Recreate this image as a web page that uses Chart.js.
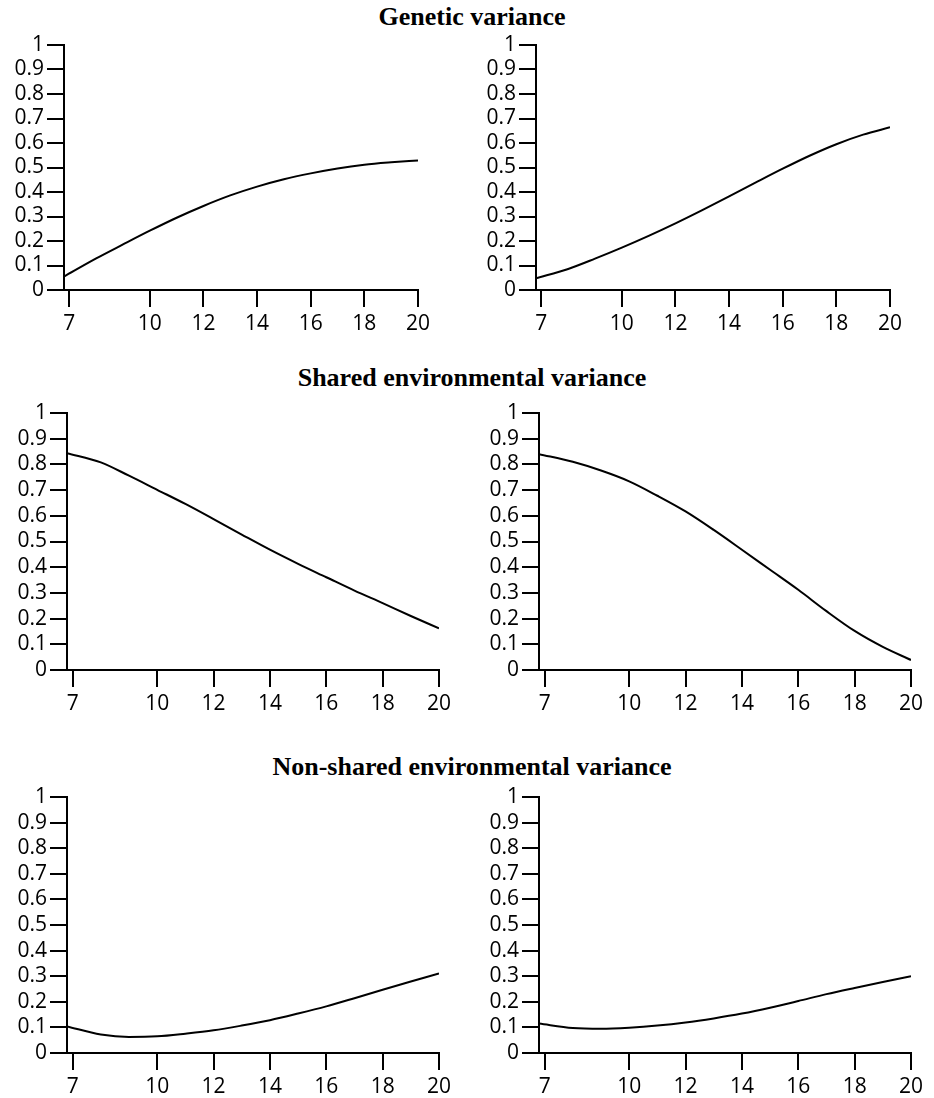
<!DOCTYPE html>
<html>
<head>
<meta charset="utf-8">
<script src="https://cdn.jsdelivr.net/npm/chart.js@4.4.0/dist/chart.umd.min.js"></script>
<style>
  html, body { margin: 0; padding: 0; background: #fff; overflow: hidden; }
  body { width: 934px; height: 1098px; position: relative; }
  canvas { position: absolute; }
  .title {
    position: absolute; left: 0; width: 944px; text-align: center;
    font-family: "Liberation Serif", "Times New Roman", serif;
    font-weight: bold; font-size: 26px; line-height: 26px; color: #000;
  }
</style>
</head>
<body>
<div class="title" style="top:4px">Genetic variance</div>
<div class="title" style="top:365px">Shared environmental variance</div>
<div class="title" style="top:754px">Non-shared environmental variance</div>

<canvas id="gLeft"></canvas>
<canvas id="gRight"></canvas>
<canvas id="cLeft"></canvas>
<canvas id="cRight"></canvas>
<canvas id="eLeft"></canvas>
<canvas id="eRight"></canvas>

<script>
// age (years); first point sits on the y axis
const ages = [6.8, 8, 9, 10, 11, 12, 13, 14, 15, 16, 17, 18, 19, 20];
const xTicks = [7, 10, 12, 14, 16, 18, 20];
const yTicks = [0, 0.1, 0.2, 0.3, 0.4, 0.5, 0.6, 0.7, 0.8, 0.9, 1];
const yTickLabels = ['0', '0.1', '0.2', '0.3', '0.4', '0.5', '0.6', '0.7', '0.8', '0.9', '1'];

const geneticLeft  = [0.055, 0.129, 0.186, 0.242, 0.295, 0.343, 0.386, 0.422, 0.452, 0.476, 0.496, 0.511, 0.521, 0.529];
const geneticRight = [0.048, 0.086, 0.128, 0.173, 0.221, 0.272, 0.326, 0.382, 0.439, 0.495, 0.548, 0.595, 0.634, 0.664];
const sharedLeft   = [0.844, 0.808, 0.756, 0.701, 0.646, 0.587, 0.527, 0.468, 0.413, 0.361, 0.309, 0.26, 0.21, 0.162];
const sharedRight  = [0.84, 0.81, 0.776, 0.734, 0.678, 0.617, 0.545, 0.468, 0.39, 0.312, 0.229, 0.152, 0.09, 0.039];
const nonSharedLeft  = [0.104, 0.072, 0.0625, 0.065, 0.0755, 0.0885, 0.107, 0.128, 0.154, 0.182, 0.214, 0.247, 0.279, 0.311];
const nonSharedRight = [0.115, 0.098, 0.095, 0.099, 0.107, 0.119, 0.135, 0.154, 0.177, 0.203, 0.23, 0.254, 0.277, 0.30];

const Y_AXIS_W = 64;
const X_AXIS_H = 46;
const PAD_TOP = 12;
const PAD_RIGHT = 22;

const tickFont = { family: '"Open Sans", sans-serif', size: 21 };

function makePanel(id, values, area) {
    const canvas = document.getElementById(id);
    const w = area.right - area.left + Y_AXIS_W + PAD_RIGHT;
    const h = area.bottom - area.top + PAD_TOP + X_AXIS_H;
    canvas.width = w;
    canvas.height = h;
    canvas.style.left = (area.left - Y_AXIS_W) + 'px';
    canvas.style.top = (area.top - PAD_TOP) + 'px';

    new Chart(canvas.getContext('2d'), {
        type: 'line',
        data: {
            datasets: [{
                data: ages.map((a, i) => ({ x: a, y: values[i] })),
                borderColor: '#000',
                borderWidth: 2,
                pointRadius: 0,
                fill: false,
                cubicInterpolationMode: 'monotone'
            }]
        },
        options: {
            responsive: false,
            animation: false,
            devicePixelRatio: 1,
            layout: { padding: { left: 0, top: PAD_TOP, right: PAD_RIGHT, bottom: 0 } },
            plugins: { legend: { display: false }, tooltip: { enabled: false } },
            scales: {
                x: {
                    type: 'linear',
                    min: 6.8,
                    max: 20,
                    afterBuildTicks: s => { s.ticks = xTicks.map(v => ({ value: v })); },
                    afterFit: s => { s.height = X_AXIS_H; s.paddingLeft = 0; s.paddingRight = 0; },
                    ticks: {
                        autoSkip: false,
                        maxRotation: 0,
                        color: '#000',
                        font: tickFont,
                        padding: 4,
                        callback: v => String(v)
                    },
                    grid: { drawOnChartArea: false, drawTicks: true, tickLength: 17, color: '#000', lineWidth: 2 },
                    border: { display: true, color: '#000', width: 2 }
                },
                y: {
                    min: 0,
                    max: 1,
                    afterBuildTicks: s => { s.ticks = yTicks.map(v => ({ value: v })); },
                    afterFit: s => { s.width = Y_AXIS_W; s.paddingTop = 0; s.paddingBottom = 0; },
                    ticks: {
                        autoSkip: false,
                        color: '#000',
                        font: tickFont,
                        padding: 3,
                        callback: (v, i) => yTickLabels[i]
                    },
                    grid: { drawOnChartArea: false, drawTicks: true, tickLength: 17, color: '#000', lineWidth: 2 },
                    border: { display: true, color: '#000', width: 2 }
                }
            }
        }
    });
}

makePanel('gLeft', geneticLeft, { left: 64, right: 418, top: 45, bottom: 290 });
makePanel('gRight', geneticRight, { left: 536, right: 890, top: 45, bottom: 290 });
makePanel('cLeft', sharedLeft, { left: 67, right: 439, top: 413, bottom: 670 });
makePanel('cRight', sharedRight, { left: 539, right: 911, top: 413, bottom: 670 });
makePanel('eLeft', nonSharedLeft, { left: 67, right: 439, top: 797, bottom: 1053 });
makePanel('eRight', nonSharedRight, { left: 539, right: 911, top: 797, bottom: 1053 });
</script>
</body>
</html>
